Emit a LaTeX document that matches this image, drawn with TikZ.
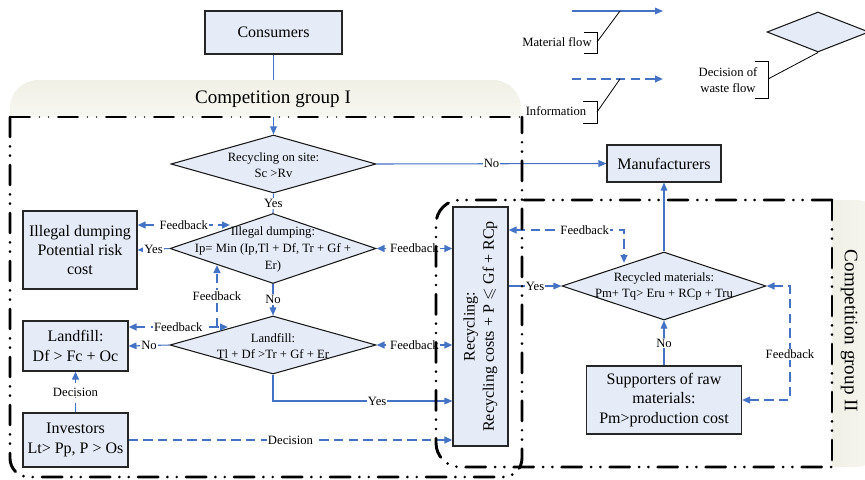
\documentclass[tikz,border=0pt]{standalone}
\usepackage{fontspec}
\setmainfont{Liberation Serif}
\usepackage{amssymb}
\usetikzlibrary{shapes.geometric,arrows.meta}

\definecolor{flowblue}{RGB}{68,114,196}
\definecolor{boxfill}{RGB}{230,236,247}
\definecolor{tabfill}{RGB}{240,240,230}

\tikzset{every picture/.style={line width=0.75pt}}
\tikzset{
	box/.style={draw=black!85, fill=boxfill, line width=0.8pt, align=center, inner sep=1pt, font=\fontsize{12}{14.5}\selectfont},
	decision/.style={diamond, draw=black!90, fill=boxfill, line width=0.8pt, inner sep=0pt},
	dectext/.style={align=center, inner sep=0pt, font=\fontsize{9.5}{12.5}\selectfont},
	flow/.style={draw=flowblue, line width=0.8pt},
	info/.style={draw=flowblue, line width=1.4pt, dash pattern=on 7pt off 4pt},
	lbl/.style={fill=white, inner sep=0.8pt, font=\fontsize{9.5}{11}\selectfont},
	lgtext/.style={align=center, inner sep=0pt, font=\fontsize{9.5}{12}\selectfont},
	lgline/.style={draw=black, line width=0.6pt},
	grpframe/.style={line width=2.2pt, line cap=round, dash pattern=on 15pt off 7pt on 0pt off 7pt on 0pt off 7pt},
	grptab/.style={draw=none},
	grplabel/.style={inner sep=0pt, font=\fontsize{14.3}{16}\selectfont}
}

\begin{document}
\begin{tikzpicture}[x=0.75pt,y=0.75pt,yscale=-1,xscale=1, >={Triangle[length=6pt,width=5pt]}]
	\useasboundingbox (0,0) rectangle (865,479);

	% Boxes
	\node[box, minimum width=102.75pt, minimum height=32.25pt] (cons) at (273.5,32.5) {Consumers};
	\node[box, minimum width=85.5pt, minimum height=27.75pt] (manu) at (664,163.5) {Manufacturers};
	\node[box, minimum width=85.5pt, minimum height=58.5pt] (illeg) at (80,250) {Illegal dumping\\Potential risk\\cost};
	\node[box, minimum width=78.75pt, minimum height=37.5pt] (landf) at (75.5,346) {Landfill:\\Df > Fc + Oc};
	\node[box, minimum width=78.75pt, minimum height=40.5pt] (invest) at (75.5,440) {Investors\\Lt> Pp, P > Os};
	\node[box, rotate=90, minimum width=179.25pt, minimum height=41.25pt] (recyc) at (480.5,326.5) {Recycling:\\Recycling costs + P $\leqslant$ Gf + RCp};
	\node[box, minimum width=116.25pt, minimum height=51pt] (suppl) at (664,400) {Supporters of raw\\materials:\\Pm>production cost};

	% Decisions
	\node[decision, minimum width=153.75pt, minimum height=43.5pt] (site) at (273.5,164) {};
	\node[dectext] (sitetxt) at (273.5,165) {Recycling on site:\\Sc >Rv};
	\node[decision, minimum width=154.5pt, minimum height=52.5pt] (illd) at (273,248.5) {};
	\node[dectext] (illdtxt) at (273,249.5) {Illegal dumping:\\Ip= Min (Ip,Tl + Df, Tr + Gf +\\Er)};
	\node[decision, minimum width=154.5pt, minimum height=43.5pt] (lfd) at (273,345) {};
	\node[dectext] (lfdtxt) at (273,346) {Landfill:\\Tl + Df >Tr + Gf + Er};
	\node[decision, minimum width=153pt, minimum height=51pt] (recd) at (664,286) {};
	\node[dectext, font=\fontsize{9.5}{11.5}\selectfont] (recdtxt) at (664,286.5) {Recycled materials:\\Pm+ Tq> Eru + RCp + Tru};

	% helper points
	\coordinate (yesrow) at (0,401);
	\coordinate (fbill) at (230,225);
	\coordinate (fbland) at (228,327);
	\coordinate (fbjoin) at (217,327);
	\coordinate (fbup) at (217,265);
	\coordinate (fbtop) at (624,230);
	\coordinate (fbrec) at (624,263);
	\coordinate (fbsup) at (790,286);

	% Material flow
	\draw[flow,->] (cons.south) -- (site.north);
	\draw[flow,->] (site.east) -- node[lbl]{No} (manu.west);
	\draw[flow] (site.south) -- node[lbl]{Yes} (illd.north);
	\draw[flow,->] (illd.west) -- node[lbl]{Yes} (illeg.east);
	\draw[flow,->] (illd.south) -- node[lbl]{No} (lfd.north);
	\draw[flow,->] (lfd.west) -- node[lbl]{No} (landf.east);
	\draw[flow,->] (lfd.south) |- node[lbl, pos=0.79]{Yes} (recyc.north |- yesrow);
	\draw[flow,->] (recyc.south |- recd.west) -- node[lbl]{Yes} (recd.west);
	\draw[flow,->] (recd.north) -- (recd.north |- manu.south);
	\draw[flow,->] (suppl.north) -- node[lbl]{No} (recd.south);

	% Information
	\draw[info,->] (invest.east) -- node[lbl]{Decision} (invest.east -| recyc.north);
	\draw[info,->] (invest.north) -- node[lbl]{Decision} (landf.south);
	\draw[info,<->] (illd.east -| recyc.north) -- node[lbl]{Feedback} (illd.east);
	\draw[info,<->] (lfd.east -| recyc.north) -- node[lbl]{Feedback} (lfd.east);
	\draw[info,<->] (illeg.east |- fbill) -- node[lbl]{Feedback} (fbill);
	\draw[info,<->] (landf.east |- fbland) -- node[lbl]{Feedback} (fbland);
	\draw[info,->] (fbjoin) -- node[lbl]{Feedback} (fbup);
	\draw[info,<->] (recyc.south |- fbtop) -- node[lbl, pos=0.66]{Feedback} (fbtop) -- (fbrec);
	\draw[info,<->] (suppl.east) -| node[lbl, pos=0.7]{Feedback} (fbsup) -- (recd.east);

	% Legend
	\coordinate (mfs) at (572,11);
	\coordinate (mfe) at (663,11);
	\coordinate (mftick) at (620,11);
	\draw[flow,->] (mfs) -- (mfe);
	\node[lgtext] (mftxt) at (557,42) {Material flow};
	\draw[lgline] (mftick) -- (597,42);
	\draw[lgline] (584,32) -- (597,32) -- (597,53) -- (584,53);

	\coordinate (ins) at (572,79);
	\coordinate (ine) at (663,79);
	\coordinate (intick) at (620,79);
	\draw[info,->] (ins) -- (ine);
	\node[lgtext] (intxt) at (556,111) {Information};
	\draw[lgline] (intick) -- (597,112);
	\draw[lgline] (583,101) -- (597,101) -- (597,123) -- (583,123);

	\node[decision, minimum width=76.5pt, minimum height=30pt] (lgdia) at (818,32) {};
	\node[lgtext] (diatxt) at (728,80) {Decision of\\waste flow};
	\draw[lgline] (lgdia.south) -- (768,79);
	\draw[lgline] (755,61) -- (768,61) -- (768,98) -- (755,98);

	% Competition group I
	\shade[grptab, top color=tabfill, bottom color=white!50!tabfill, rounded corners=21pt] (10,117) -- (10,80) -- (521,80) -- (521,117);
	\node[grplabel] (grpone) at (273,99) {Competition group I};
	\draw[grpframe, line width=1.2pt] (10,117) -- (522,117);
	\draw[grpframe, rounded corners=14pt] (10,117) -- (10,477) -- (522,477) -- (522,117);

	% Competition group II
	\shade[grptab, left color=tabfill, right color=white!50!tabfill, rounded corners=22pt] (832,200) -- (885,200) -- (885,467) -- (832,467);
	\node[grplabel, rotate=-90] (grptwo) at (849,331) {Competition group II};
	\draw[grpframe, rounded corners=18pt] (832,200) -- (436,200) -- (436,467) -- (832,467);
	\draw[grpframe] (832,200) -- (832,467);
\end{tikzpicture}
\end{document}
